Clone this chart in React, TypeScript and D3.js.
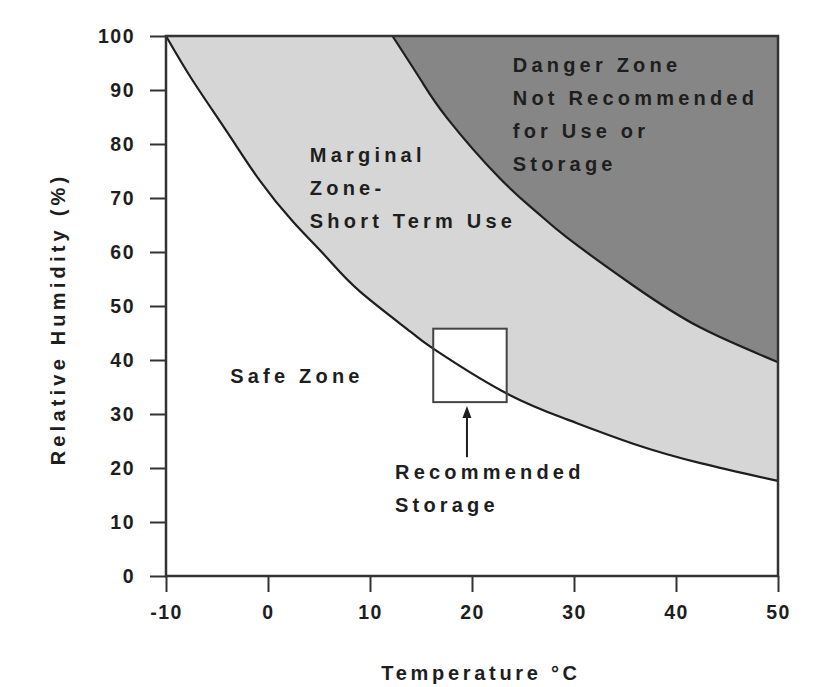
import React, { useEffect, useRef } from 'react';
import * as d3 from 'd3';

// boundary between safe and marginal zone
const lowerTemp = [-10, -7.4, -4, -0.8, 2.5, 5.8, 9, 14, 16.2, 23, 29.3, 35.8, 42.4, 50];
const lowerRH = [100, 91.8, 82.2, 73.2, 65.5, 58.9, 52.7, 45.2, 42.1, 34.2, 29.0, 24.5, 20.9, 17.6];

// boundary between marginal and danger zone
const upperTemp = [12.2, 15, 17.6, 22.7, 26.4, 29.3, 35.8, 42.4, 50];
const upperRH = [100, 91.8, 84.7, 73.7, 67.3, 62.7, 53.8, 46.0, 39.6];

// recommended storage box: [tMin, tMax], [rhMin, rhMax]
const boxTemp = [16.2, 23.4];
const boxRH = [32.2, 45.8];

const xTicks = [-10, 0, 10, 20, 30, 40, 50];
const yTicks = [0, 10, 20, 30, 40, 50, 60, 70, 80, 90, 100];

const zoneLabels = [
  { t: 24.0, rh: 93.3, lines: ['Danger Zone', 'Not Recommended', 'for Use or', 'Storage'] },
  { t: 4.1, rh: 76.7, lines: ['Marginal', 'Zone-', 'Short Term Use'] },
  { t: -3.7, rh: 35.7, lines: ['Safe Zone'] },
  { t: 12.45, rh: 18.0, lines: ['Recommended', 'Storage'] },
];

const FONT = '"Liberation Sans", Arial, Helvetica, sans-serif';
const INK = '#1e1e1e';

const App = () => {
  const svgRef = useRef<SVGSVGElement>(null);

  useEffect(() => {
    const w = 817, h = 687;
    const svg = d3.select(svgRef.current).attr('width', w).attr('height', h);
    svg.selectAll('*').remove();

    const x = d3.scaleLinear().domain([-10, 50]).range([166, 778]);
    const y = d3.scaleLinear().domain([0, 100]).range([576, 36]);

    const lower = lowerTemp.map((t, i) => ({ t, rh: lowerRH[i] }));
    const upper = upperTemp.map((t, i) => ({ t, rh: upperRH[i] }));

    // fills: light gray above the lower curve, dark gray above the upper one
    const area = d3.area<{ t: number; rh: number }>()
      .x(d => x(d.t))
      .y0(y(100))
      .y1(d => y(d.rh))
      .curve(d3.curveNatural);

    svg.append('path').attr('d', area(lower)).attr('fill', '#d5d6d5');
    svg.append('path').attr('d', area(upper)).attr('fill', '#868686');

    // storage box (white inside)
    svg.append('rect')
      .attr('x', x(boxTemp[0]))
      .attr('y', y(boxRH[1]))
      .attr('width', x(boxTemp[1]) - x(boxTemp[0]))
      .attr('height', y(boxRH[0]) - y(boxRH[1]))
      .attr('fill', '#fff');

    const line = d3.line<{ t: number; rh: number }>()
      .x(d => x(d.t))
      .y(d => y(d.rh))
      .curve(d3.curveNatural);

    [lower, upper].forEach(data => {
      svg.append('path')
        .attr('d', line(data))
        .attr('fill', 'none')
        .attr('stroke', INK)
        .attr('stroke-width', 2.2);
    });

    svg.append('rect')
      .attr('x', x(boxTemp[0]))
      .attr('y', y(boxRH[1]))
      .attr('width', x(boxTemp[1]) - x(boxTemp[0]))
      .attr('height', y(boxRH[0]) - y(boxRH[1]))
      .attr('fill', 'none')
      .attr('stroke', '#444')
      .attr('stroke-width', 2);

    // arrow pointing at box
    const ax = x((boxTemp[0] + boxTemp[1]) / 2) - 3;
    const tipY = y(boxRH[0]) + 4;
    svg.append('line')
      .attr('x1', ax).attr('x2', ax)
      .attr('y1', y(22)).attr('y2', tipY + 8)
      .attr('stroke', INK).attr('stroke-width', 2);
    svg.append('path')
      .attr('d', `M${ax},${tipY} L${ax - 4.5},${tipY + 12} L${ax + 4.5},${tipY + 12} Z`)
      .attr('fill', INK);

    // frame
    svg.append('rect')
      .attr('x', x(-10)).attr('y', y(100))
      .attr('width', x(50) - x(-10)).attr('height', y(0) - y(100))
      .attr('fill', 'none').attr('stroke', '#333').attr('stroke-width', 2.5);

    // axes
    const gx = svg.append('g')
      .attr('transform', `translate(0, ${y(0)})`)
      .call(d3.axisBottom(x).tickValues(xTicks).tickSize(16).tickSizeOuter(0).tickPadding(13)
        .tickFormat(d => String(d)));
    const gy = svg.append('g')
      .attr('transform', `translate(${x(-10)}, 0)`)
      .call(d3.axisLeft(y).tickValues(yTicks).tickSize(16).tickSizeOuter(0).tickPadding(15)
        .tickFormat(d => String(d)));

    [gx, gy].forEach(g => {
      g.select('.domain').remove();
      g.selectAll('line').attr('stroke', '#333').attr('stroke-width', 2);
      g.selectAll('text')
        .attr('fill', INK)
        .style('font-family', FONT)
        .style('font-size', '19.5px')
        .style('font-weight', 'bold')
        .style('letter-spacing', '1.5px');
    });

    // zone labels
    zoneLabels.forEach(lab => {
      const txt = svg.append('text')
        .attr('x', x(lab.t))
        .attr('y', y(lab.rh))
        .attr('fill', INK)
        .style('font-family', FONT)
        .style('font-size', '20px')
        .style('font-weight', 'bold')
        .style('letter-spacing', '4.2px');
      lab.lines.forEach((s, i) => {
        txt.append('tspan').attr('x', x(lab.t)).attr('dy', i === 0 ? 0 : 33).text(s);
      });
    });

    // axis titles
    svg.append('text')
      .attr('x', 481).attr('y', 680)
      .attr('text-anchor', 'middle')
      .attr('fill', INK)
      .style('font-family', FONT)
      .style('font-size', '20px')
      .style('font-weight', 'bold')
      .style('letter-spacing', '3.7px')
      .text('Temperature °C');

    svg.append('text')
      .attr('transform', 'translate(65, 319) rotate(-90)')
      .attr('text-anchor', 'middle')
      .attr('fill', INK)
      .style('font-family', FONT)
      .style('font-size', '20px')
      .style('font-weight', 'bold')
      .style('letter-spacing', '4.2px')
      .text('Relative Humidity (%)');
  }, []);

  return (
    <div>
      <style>{'body{margin:0;background:#fff}'}</style>
      <svg ref={svgRef} style={{ display: 'block' }}></svg>
    </div>
  );
};

export default App;
